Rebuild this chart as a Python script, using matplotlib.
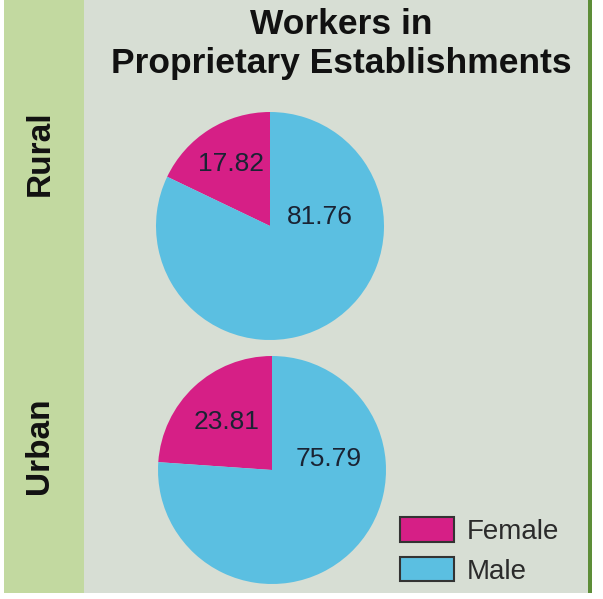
import matplotlib.pyplot as plt
from matplotlib.patches import Rectangle, Patch

plt.rcParams['font.family'] = ['Liberation Sans', 'DejaVu Sans']

# data
groups = ['Rural', 'Urban']
categories = ['Female', 'Male']
female = [17.82, 23.81]
male = [81.76, 75.79]
colors = ['#d61f86', '#5bbfe1']

W, H = 603, 599
fig = plt.figure(figsize=(W / 100, H / 100), dpi=100)
fig.patch.set_facecolor('white')


def fx(px):
    return px / W


def fy(py):
    return 1 - py / H


# background panels
fig.patches.append(Rectangle((fx(4), fy(593)), fx(84) - fx(4), fy(0) - fy(593),
                             transform=fig.transFigure, facecolor='#c2d9a0', edgecolor='none', zorder=-2))
fig.patches.append(Rectangle((fx(84), fy(593)), fx(588) - fx(84), fy(0) - fy(593),
                             transform=fig.transFigure, facecolor='#d7ded4', edgecolor='none', zorder=-2))
fig.patches.append(Rectangle((fx(588), fy(593)), fx(592) - fx(588), fy(0) - fy(593),
                             transform=fig.transFigure, facecolor='#5d8d38', edgecolor='none', zorder=-2))

# title
fig.text(fx(341), fy(34), 'Workers in', ha='center', va='baseline',
         fontsize=25.5, fontweight='bold', color='#111111')
fig.text(fx(341), fy(73), 'Proprietary Establishments', ha='center', va='baseline',
         fontsize=25.5, fontweight='bold', color='#111111')

# row labels
fig.text(fx(40), fy(153), groups[0], rotation=90, ha='center', va='center',
         fontsize=24, fontweight='bold', color='#111111')
fig.text(fx(40), fy(446), groups[1], rotation=90, ha='center', va='center',
         fontsize=24, fontweight='bold', color='#111111')

centers = [(270, 226), (272, 470)]
radius = 114
male_lab_pos = [(0.44, 0.08), (0.50, 0.10)]
fem_lab_dist = [0.64, 0.58]

for i in range(2):
    cx, cy = centers[i]
    ax = fig.add_axes([fx(cx - radius), fy(cy + radius), 2 * radius / W, 2 * radius / H])
    ax.set_zorder(2)
    vals = [female[i], male[i]]
    wedges, texts = ax.pie(vals, colors=colors, startangle=90, counterclock=True,
                           labels=[f'{v:.2f}' for v in vals], labeldistance=fem_lab_dist[i],
                           wedgeprops=dict(edgecolor='none'),
                           textprops=dict(fontsize=19, color='#1a2333', ha='center', va='center'))
    texts[1].set_position(male_lab_pos[i])
    for t in texts:
        t.set_ha('center')
        t.set_va('center')
    ax.set_xlim(-1, 1)
    ax.set_ylim(-1, 1)
    ax.set_aspect('equal')
    ax.axis('off')

handles = [Patch(facecolor=colors[j], edgecolor='#333333', linewidth=1.5) for j in range(2)]
fig.legend(handles, categories, loc='upper left', bbox_to_anchor=(fx(400), fy(517)),
           frameon=False, fontsize=20, handlelength=1.95, handleheight=1.0,
           labelspacing=0.42, handletextpad=0.45, borderpad=0, borderaxespad=0,
           labelcolor='#2b2b2b')

fig.savefig('out.png', dpi=100)
